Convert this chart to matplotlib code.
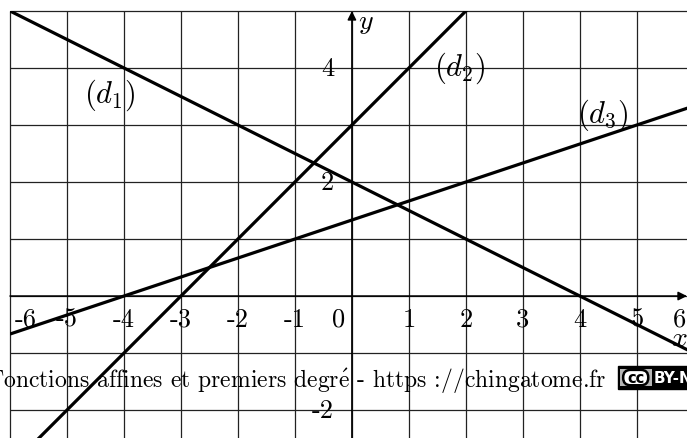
import numpy as np
import matplotlib
matplotlib.use("Agg")
import matplotlib.pyplot as plt
from matplotlib.patches import Rectangle, FancyBboxPatch

plt.rcParams['mathtext.fontset'] = 'cm'

# ---- data ----
line_names = ["$(d_1)$", "$(d_2)$", "$(d_3)$"]
slopes = [-0.5, 1.0, 1.0 / 3.0]
intercepts = [2.0, 3.0, 4.0 / 3.0]
label_pos_x = [-4.25, 1.89, 4.4]
label_pos_y = [3.54, 4.02, 3.19]

x_ticks = [-6, -5, -4, -3, -2, -1, 0, 1, 2, 3, 4, 5, 6]
x_tick_labels = ["-6", "-5", "-4", "-3", "-2", "-1", "0", "1", "2", "3", "4", "5", "6"]
x_label_shift = {-6: 0.28, 0: -0.23, 6: -0.25}
y_ticks = [4, 2, -2]
y_tick_labels = ["4", "2", "-2"]

grid_x = list(range(-6, 7))
grid_y = list(range(-3, 6))

footer = r"Fonctions affines et premiers degr$\acute{\mathrm{e}}$ - https ://chingatome.fr"

fig = plt.figure(figsize=(6.87, 4.39), dpi=100)
ax = fig.add_axes([0, 0, 1, 1])
ax.set_xlim(-6.175, 5.88)
ax.set_ylim(-2.49, 5.21)
ax.axis('off')

# grid
ax.vlines(grid_x, -3, 5, colors='#222222', lw=0.9, zorder=1)
ax.hlines(grid_y, -6, 6, colors='#222222', lw=0.9, zorder=1)

# axes with arrows
ax.annotate('', xy=(0, 5.0), xytext=(0, -3),
            arrowprops=dict(arrowstyle='-|>', lw=1.1, color='k',
                            mutation_scale=13, shrinkA=0, shrinkB=0), zorder=3)
ax.annotate('', xy=(5.88, 0), xytext=(-6, 0),
            arrowprops=dict(arrowstyle='-|>', lw=1.1, color='k',
                            mutation_scale=13, shrinkA=0, shrinkB=0), zorder=3)

# lines
clip = Rectangle((-6, -3), 12, 8, transform=ax.transData, fill=False, visible=False)
ax.add_patch(clip)
xs = np.array([-6.0, 6.0])
for m, b in zip(slopes, intercepts):
    ln, = ax.plot(xs, m * xs + b, color='k', lw=2.3, zorder=4, solid_capstyle='butt')
    ln.set_clip_path(clip)

for name, lx, ly in zip(line_names, label_pos_x, label_pos_y):
    ax.text(lx, ly, name, fontsize=22, ha='center', va='center', zorder=5)

# tick labels
tfont = dict(family=['cmr10', 'DejaVu Serif'], fontsize=19)
for v, lab in zip(x_ticks, x_tick_labels):
    ax.text(v + x_label_shift.get(v, 0), -0.40, lab, ha='center', va='center', **tfont)
for v, lab in zip(y_ticks, y_tick_labels):
    ax.text(-0.31, v, lab, ha='right', va='center', **tfont)

ax.text(0.1, 4.82, '$y$', fontsize=20, ha='left', va='center')
ax.text(5.75, -0.72, '$x$', fontsize=20, ha='center', va='center')

# footer
ax.text(4.47, -1.47, footer, ha='right', va='center',
        family=['cmr10', 'DejaVu Serif'], fontsize=17, zorder=6)

# CC badge
ax.add_patch(Rectangle((4.67, -1.625), 1.4, 0.39, facecolor='black',
                       edgecolor='black', zorder=6))
ax.add_patch(Rectangle((4.71, -1.585), 0.55, 0.31, facecolor='#b5b5b5',
                       edgecolor='none', zorder=7))
ax.add_patch(FancyBboxPatch((4.76, -1.565), 0.44, 0.27,
                            boxstyle='round,pad=0,rounding_size=0.13',
                            facecolor='white', edgecolor='black', lw=1.8, zorder=8))
ax.text(4.98, -1.43, 'cc', fontsize=10.5, fontweight='bold', ha='center', va='center',
        family='DejaVu Sans', zorder=9)
ax.text(5.29, -1.43, 'BY-N', fontsize=11, fontweight='bold', color='white',
        ha='left', va='center', family='DejaVu Sans', zorder=9)

fig.savefig('out.png', dpi=100)
